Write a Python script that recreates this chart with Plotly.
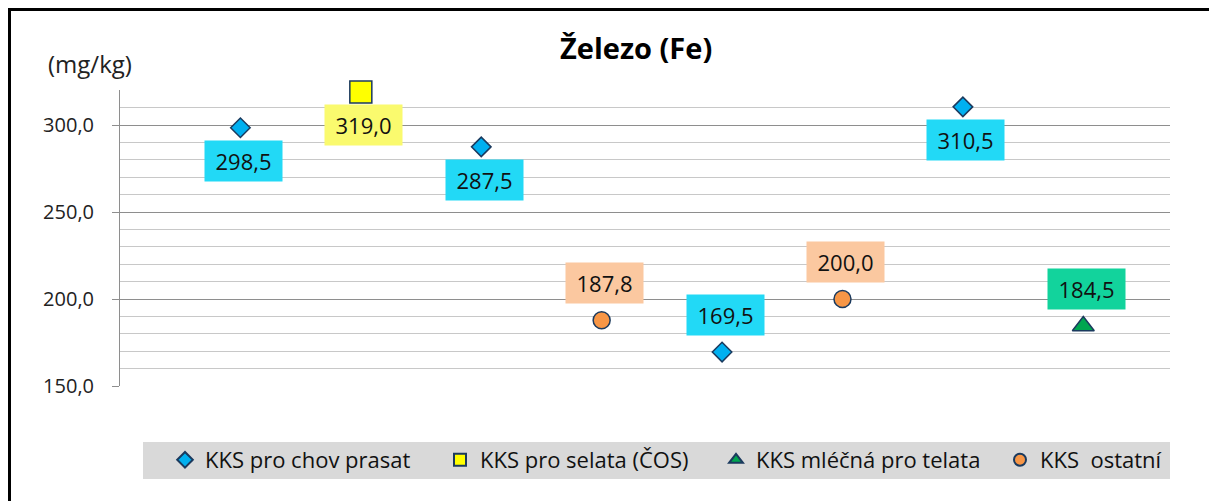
import plotly.graph_objects as go

# ---- data ----
positions = [1, 2, 3, 4, 5, 6, 7, 8]
values = [298.5, 319.0, 287.5, 187.8, 169.5, 200.0, 310.5, 184.5]
series_of = ["prasat", "selata", "prasat", "ostatni", "prasat", "ostatni", "prasat", "telata"]
label_side = ["below", "below", "below", "above", "above", "above", "below", "above"]

series_order = ["prasat", "selata", "telata", "ostatni"]
series_names = {
    "prasat": "KKS pro chov prasat",
    "selata": "KKS pro selata (ČOS)",
    "telata": "KKS mléčná pro telata",
    "ostatni": "KKS\u00a0 ostatní",
}
y_ticks = [150, 200, 250, 300]
y_tick_text = ["150,0", "200,0", "250,0", "300,0"]

# ---- styles ----
styles = {
    "prasat": dict(symbol="diamond", size=15, color="#00B0F0", label_bg="#22D9F6"),
    "selata": dict(symbol="square", size=22, color="#FFFF00", label_bg="#FAFA6E"),
    "telata": dict(symbol="triangle-up", size=19, color="#00A650", label_bg="#12D39C"),
    "ostatni": dict(symbol="circle", size=17, color="#F79646", label_bg="#FBC8A0"),
}
# legend left edge (page px) per legend
legend_left = [165, 440, 716, 1000]
outline = "#1B3A5E"
FONT = "Open Sans"
FIG_W, FIG_H = 1209, 493
PAGE_OFF = 8


def px(xpix):
    return (xpix - 120) / 1050


def py(ypix):
    return (386 - ypix) / 296


fig = go.Figure()
legend_layout = {}
for i, s in enumerate(series_order):
    xs = [p for p, k in zip(positions, series_of) if k == s]
    ys = [v for v, k in zip(values, series_of) if k == s]
    st = styles[s]
    lname = "legend" if i == 0 else f"legend{i + 1}"
    fig.add_trace(go.Scatter(
        x=xs, y=ys, mode="markers", name=series_names[s], cliponaxis=False,
        legend=lname,
        marker=dict(symbol=st["symbol"], size=st["size"], color=st["color"],
                    line=dict(color=outline, width=1.5)),
    ))
    leg = dict(
        orientation="h", xanchor="left",
        y=py(460), yanchor="middle",
        bgcolor="rgba(0,0,0,0)", font=dict(family=FONT, size=22, color="#111111"),
        itemsizing="constant",
    )
    if i == len(series_order) - 1:
        leg["xref"] = "container"
        leg["x"] = (legend_left[i] - PAGE_OFF) / FIG_W
    else:
        leg["x"] = px(legend_left[i])
    legend_layout[lname] = leg

for p, v, k, side in zip(positions, values, series_of, label_side):
    fig.add_annotation(
        x=p, y=v, xref="x", yref="y",
        text=f"{v:.1f}".replace(".", ","),
        showarrow=False,
        xshift=3,
        yshift=-33 if side == "below" else 37,
        bgcolor=styles[k]["label_bg"],
        width=67, height=30, borderpad=5,
        font=dict(family=FONT, size=22, color="#111111"),
    )

# title and unit
fig.add_annotation(text="<b>Železo (Fe)</b>", xref="paper", yref="paper",
                   x=px(636), y=py(47), xanchor="center", yanchor="middle", showarrow=False,
                   font=dict(family=FONT, size=29, color="#000000"))
fig.add_annotation(text="(mg/kg)", xref="paper", yref="paper",
                   x=px(90), y=py(63), xanchor="center", yanchor="middle", showarrow=False,
                   font=dict(family=FONT, size=24, color="#222222"))

# outer border and legend band
fig.add_shape(type="rect", xref="paper", yref="paper",
              x0=px(9.5), x1=px(1211.5), y0=py(530), y1=py(9.5),
              line=dict(color="#000000", width=3), fillcolor="rgba(0,0,0,0)", layer="below")
fig.add_shape(type="rect", xref="paper", yref="paper",
              x0=px(143), x1=1.0, y0=py(479), y1=py(442),
              line=dict(width=0), fillcolor="#D9D9D9", layer="below")

fig.update_layout(
    width=FIG_W, height=FIG_H,
    margin=dict(l=112, r=47, t=82, b=115, autoexpand=False),
    paper_bgcolor="#FFFFFF", plot_bgcolor="#FFFFFF",
    showlegend=True,
    font=dict(family=FONT),
    **legend_layout,
)
fig.update_xaxes(range=[0, 8.72], showgrid=False, zeroline=False, showticklabels=False,
                 showline=False, ticks="")
fig.update_yaxes(range=[150, 320.2], tickvals=y_ticks, ticktext=y_tick_text,
                 showgrid=True, gridcolor="#8E8E8E", gridwidth=1,
                 zeroline=False, showline=True, linecolor="#8E8E8E", linewidth=1,
                 ticks="outside", ticklen=7, tickcolor="#8E8E8E", ticklabelstandoff=14,
                 tickfont=dict(family=FONT, size=20, color="#222222"),
                 minor=dict(dtick=10, tick0=150, showgrid=True, gridcolor="#C8C8C8",
                            gridwidth=1, ticks=""))

fig.write_html("out.html")
